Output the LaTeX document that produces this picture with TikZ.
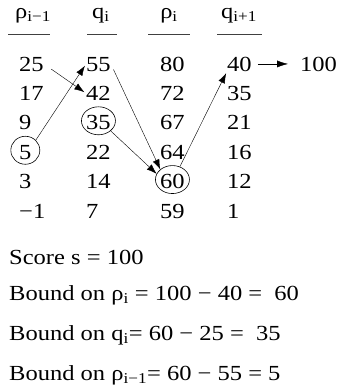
\documentclass[tikz,border=0pt]{standalone}
\usepackage{fontspec}
\setmainfont{Liberation Serif}[FakeStretch=1.14]
\usetikzlibrary{arrows.meta, positioning, shapes.geometric}
\newcommand{\lowidx}[1]{\textsubscript{#1}}

\begin{document}
\begin{tikzpicture}[x=1pt, y=-1pt, >={Latex[length=10pt,width=7pt]}, font=\fontsize{21.5}{25}\selectfont]
            \tikzset{num/.style={anchor=base west, inner sep=0pt},
                     colhead/.style={anchor=base, inner sep=0pt},
                     ring/.style={ellipse, draw, minimum width=34pt, minimum height=28pt, inner sep=0pt, line width=0.6pt, yshift=2pt},
                     rule/.style={line width=0.8pt, black!75}}
            \useasboundingbox (0,0) rectangle (337,391);
            % column headers
            \node[colhead] (h1) at (33,18) {ρ\lowidx{i−1}};
            \node[colhead] (h2) at (101,18) {q\lowidx{i}};
            \node[colhead] (h3) at (169,18) {ρ\lowidx{i}};
            \node[colhead] (h4) at (239,18) {q\lowidx{i+1}};
            \draw[rule] (8,34) -- (50,34);
            \draw[rule] (87,34) -- (117,34);
            \draw[rule] (148,34) -- (190,34);
            \draw[rule] (217,34) -- (262,34);
            % first column
            \node[num] (a1) at (19,71) {25};
            \node[num] (a2) at (19,100.4) {17};
            \node[num] (a3) at (19,129.8) {9};
            \node[num] (a4) at (19,159.2) {5};
            \node[num] (a5) at (19,188.6) {3};
            \node[num] (a6) at (19,218) {−1};
            % second column
            \node[num] (b1) at (86,71) {55};
            \node[num] (b2) at (86,100.4) {42};
            \node[num] (b3) at (86,129.8) {35};
            \node[num] (b4) at (86,159.2) {22};
            \node[num] (b5) at (86,188.6) {14};
            \node[num] (b6) at (86,218) {7};
            % third column
            \node[num] (c1) at (160,71) {80};
            \node[num] (c2) at (160,100.4) {72};
            \node[num] (c3) at (160,129.8) {67};
            \node[num] (c4) at (160,159.2) {64};
            \node[num] (c5) at (160,188.6) {60};
            \node[num] (c6) at (160,218) {59};
            % fourth column
            \node[num] (d1) at (227,71) {40};
            \node[num] (d2) at (227,100.4) {35};
            \node[num] (d3) at (227,129.8) {21};
            \node[num] (d4) at (227,159.2) {16};
            \node[num] (d5) at (227,188.6) {12};
            \node[num] (d6) at (227,218) {1};
            \node[num] (s) at (300,71) {100};
            % circled entries
            \node[ring, minimum width=29pt] (r5) at (a4) {};
            \node[ring] (r35) at (b3) {};
            \node[ring] (r60) at (c5) {};
            % arrows
            \draw[->, shorten <=9pt, shorten >=2pt] (a1.east) -- (b2.west);
            \draw[->, shorten >=2pt] (r5.north east) -- (b1.west);
            \draw[->, shorten <=6pt] (b1.east) -- (r60.140);
            \draw[->] (r35.south east) -- (r60.160);
            \draw[->, shorten >=2pt] (r60.60) -- (d1.south west);
            \draw[->, >={Latex[length=11pt,width=7pt]}, shorten <=6pt, shorten >=12pt] (d1.east) -- (s.west);
            % bounds
            \node[num] (t1) at (9,264) {Score s = 100};
            \node[num] (t2) at (9,300) {Bound on ρ\lowidx{i} = 100 − 40 =~ 60};
            \node[num] (t3) at (9,340) {Bound on q\lowidx{i}= 60 − 25 =~ 35};
            \node[num] (t4) at (9,380) {Bound on ρ\lowidx{i−1}= 60 − 55 = 5};
        \end{tikzpicture}
\end{document}
